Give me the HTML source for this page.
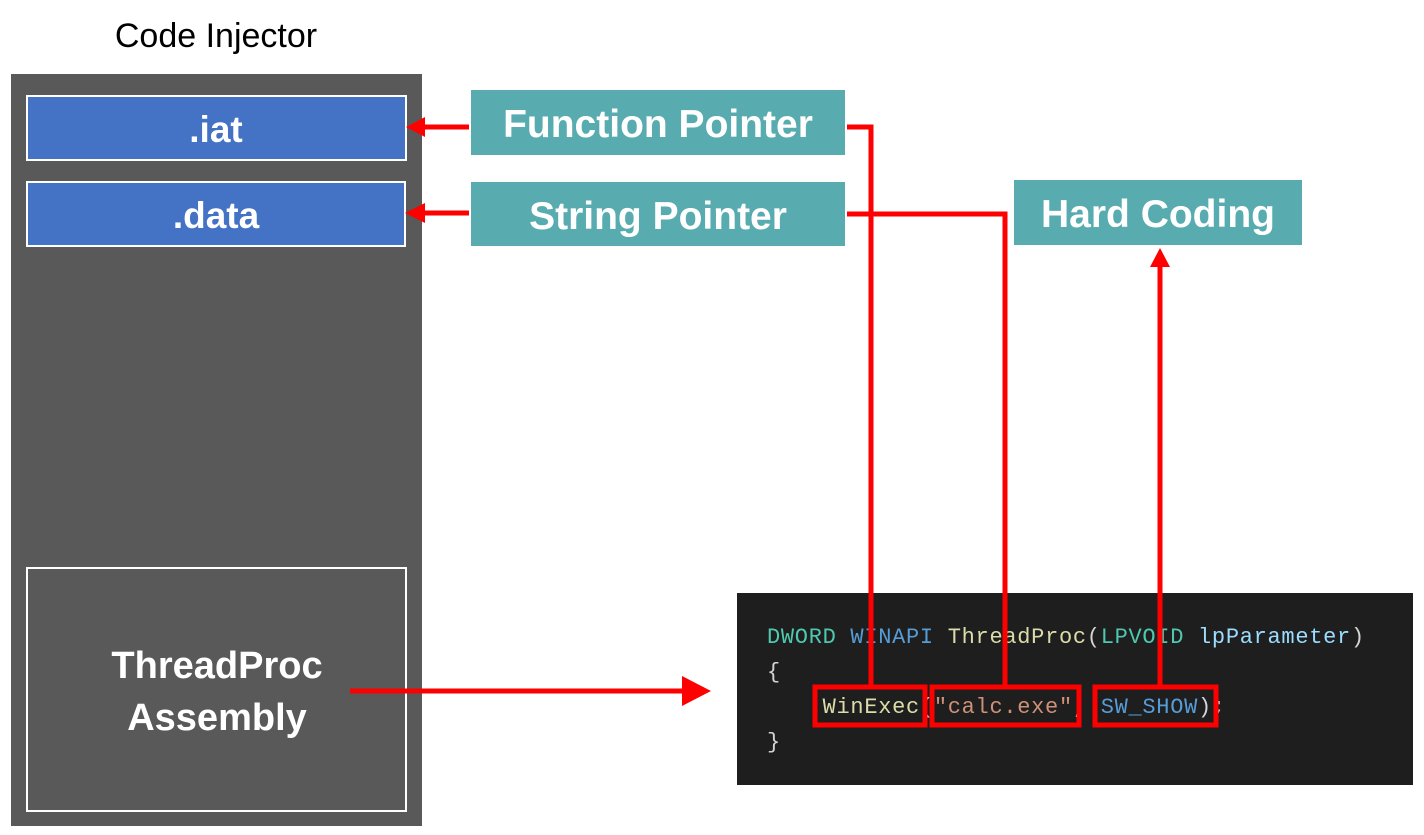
<!DOCTYPE html>
<html><head><meta charset="utf-8"><style>
html,body{margin:0;padding:0;background:#fff;width:1424px;height:835px;overflow:hidden}
svg{display:block}
.b{font-family:"Liberation Sans","Noto Sans CJK KR",sans-serif;font-weight:bold;fill:#fff}
.m{font-family:"Liberation Mono","DejaVu Sans Mono",monospace;font-size:22px;letter-spacing:0.7px}
</style></head><body>
<svg width="1424" height="835" viewBox="0 0 1424 835">
<text x="216" y="47" text-anchor="middle" font-family="Liberation Sans,NanumGothic,sans-serif" font-size="34" fill="#000">Code Injector</text>
<rect x="11" y="74" width="411" height="752" fill="#595959"/>
<rect x="27" y="96" width="379" height="64" fill="#4472c4" stroke="#fff" stroke-width="2"/>
<text class="b" x="216" y="142" text-anchor="middle" font-size="37">.iat</text>
<rect x="27" y="182" width="378" height="64" fill="#4472c4" stroke="#fff" stroke-width="2"/>
<text class="b" x="216" y="228" text-anchor="middle" font-size="37">.data</text>
<rect x="27" y="568" width="379" height="243" fill="#595959" stroke="#fff" stroke-width="2"/>
<text class="b" x="217" y="678" text-anchor="middle" font-size="38">ThreadProc</text>
<text class="b" x="217" y="730" text-anchor="middle" font-size="38">Assembly</text>

<rect x="471" y="90" width="374" height="65" fill="#58acb0"/>
<text class="b" x="658" y="137" text-anchor="middle" font-size="39">Function Pointer</text>
<rect x="471" y="182" width="374" height="64" fill="#58acb0"/>
<text class="b" x="658" y="229" text-anchor="middle" font-size="39">String Pointer</text>
<rect x="1014" y="180" width="288" height="65" fill="#58acb0"/>
<text class="b" x="1158" y="227" text-anchor="middle" font-size="39">Hard Coding</text>

<rect x="737" y="593" width="676" height="192" fill="#1e1e1e"/>
<text class="m" x="767" y="643"><tspan fill="#4ec9b0">DWORD</tspan> <tspan fill="#569cd6">WINAPI</tspan> <tspan fill="#dcdcaa">ThreadProc</tspan><tspan fill="#d4d4d4">(</tspan><tspan fill="#4ec9b0">LPVOID</tspan> <tspan fill="#9cdcfe">lpParameter</tspan><tspan fill="#d4d4d4">)</tspan></text>
<text class="m" x="767" y="678" fill="#d4d4d4">{</text>
<text class="m" x="767" y="713" xml:space="preserve"><tspan fill="#d4d4d4">    </tspan><tspan fill="#dcdcaa">WinExec</tspan><tspan fill="#d4d4d4">(</tspan><tspan fill="#ce9178">"calc.exe"</tspan><tspan fill="#d4d4d4">, </tspan><tspan fill="#569cd6">SW_SHOW</tspan><tspan fill="#d4d4d4">);</tspan></text>
<text class="m" x="767" y="748" fill="#d4d4d4">}</text>

<g fill="none" stroke="#f00" stroke-width="5">
<rect x="815" y="687" width="110" height="38"/>
<rect x="932" y="687" width="147" height="38"/>
<rect x="1095" y="687" width="121" height="38"/>
<polyline points="847,127 871,127 871,687"/>
<polyline points="847,214 1005,214 1005,687"/>
<line x1="1160" y1="687" x2="1160" y2="265"/>
<line x1="469" y1="127" x2="425" y2="127"/>
<line x1="469" y1="213" x2="425" y2="213"/>
<line x1="350" y1="691" x2="685" y2="691"/>
</g>
<g fill="#f00">
<polygon points="1160,248 1150,267 1170,267"/>
<polygon points="406,127 425,117 425,137"/>
<polygon points="405,213 425,203 425,223"/>
<polygon points="711,691 682,676 682,706"/>
</g>
</svg>
</body></html>
